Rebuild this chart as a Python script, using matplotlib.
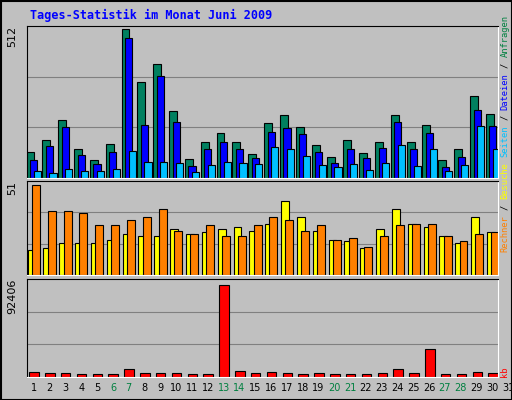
import matplotlib
matplotlib.use("Agg")
import matplotlib.pyplot as plt
import numpy as np

days = list(range(1, 32))
weekend = [6, 7, 13, 14, 20, 21, 27, 28]
anfragen = [91,132,199,101,63,118,512,331,390,230,66,125,153,122,84,188,216,174,115,73,129,87,125,216,125,181,63,98,282,219]
dateien = [63,111,174,80,49,91,481,181,352,192,42,101,125,98,70,157,171,150,91,52,101,70,104,192,101,153,38,73,233,178]
seiten = [24,17,31,24,24,31,94,56,56,52,21,45,56,52,49,108,101,77,45,38,49,28,52,115,42,101,24,45,178,98]
rechner = [14,15,18,18,18,20,23,22,22,26,23,24,26,27,25,29,42,33,25,20,19,15,26,37,29,27,22,18,33,24]
besuche = [51,36,36,35,28,28,31,33,37,25,23,28,22,22,28,33,31,25,28,20,21,16,22,28,29,29,22,19,23,24]
kb = [5000,4000,4000,3000,3000,3000,8000,4000,4000,4000,3000,3000,92406,6000,4000,5000,4000,3000,4000,3000,3000,3000,4000,8000,4000,28000,3000,3000,5000,4000]

BG = "#C0C0C0"
fig = plt.figure(figsize=(5.12, 4.0), dpi=100, facecolor=BG)
W, H = 512, 400
def ax_px(x0, y0, x1, y1):
    return fig.add_axes([x0/W, 1-y1/H, (x1-x0)/W, (y1-y0)/H], facecolor=BG)

fig.patches.append(plt.Rectangle((0.5/W, 0.5/H), 1-1/W, 1-1/H, transform=fig.transFigure,
                                 fill=False, ec="black", lw=1.5))
fig.text(30/W, 1-15/H, "Tages-Statistik im Monat Juni 2009", color="#0000FF",
         family="DejaVu Sans Mono", weight="bold", fontsize=8.5, va="center")

x = np.arange(1, 31)
axes = []
a1 = ax_px(27, 26, 498, 178)
a1.bar(x-0.22, anfragen, width=0.5, color="#008060", ec="black", lw=0.8)
a1.bar(x-0.02, dateien, width=0.45, color="#0000FF", ec="black", lw=0.8)
a1.bar(x+0.2, seiten, width=0.45, color="#00C0FF", ec="black", lw=0.8)
a1.set_ylim(0, 512*1.02)
a1.text(-0.02, 1, "512", transform=a1.transAxes, rotation=90, ha="right", va="top", fontsize=8)
axes.append(a1)

a2 = ax_px(27, 181, 498, 275)
a2.bar(x-0.15, rechner, width=0.5, color="#FFFF00", ec="black", lw=0.8)
a2.bar(x+0.12, besuche, width=0.5, color="#FF8000", ec="black", lw=0.8)
a2.set_ylim(0, 51*1.04)
a2.text(-0.02, 1, "51", transform=a2.transAxes, rotation=90, ha="right", va="top", fontsize=8)
axes.append(a2)

a3 = ax_px(27, 279, 498, 377)
a3.bar(x, kb, width=0.6, color="#FF0000", ec="black", lw=0.8)
a3.set_ylim(0, 92406*1.06)
a3.text(-0.02, 1, "92406", transform=a3.transAxes, rotation=90, ha="right", va="top", fontsize=8)
axes.append(a3)

for a in axes:
    a.set_xticks([]); a.set_yticks([])
    lo, hi = a.get_ylim()
    for f in (1/3, 2/3):
        a.axhline(hi*f, color="#808080", lw=0.8, zorder=0)
    a.spines["left"].set_color("black"); a.spines["top"].set_color("black")
    a.spines["right"].set_color("white"); a.spines["bottom"].set_color("white")
    a.set_xlim(0.56, 30.3)

for d in days:
    xp = 34 + (d-1)*15.8
    fig.text(xp/W, 1-388/H, str(d), ha="center", va="center", fontsize=7,
             color="#008040" if d in weekend else "black")

pieces = [("Rechner", "#FF8000"), ("/", "black"), ("Besuche", "#FFFF00"),
          ("Seiten", "#00C0FF"), ("/", "black"), ("Dateien", "#0000FF"), ("/", "black"),
          ("Anfragen", "#008040")]
fs = 6.3
cw = 0.602*fs*100/72
y = 252
for t, c in pieces:
    fig.text(505/W, 1-y/H, t, rotation=90, color=c, family="DejaVu Sans Mono",
             fontsize=fs, ha="center", va="bottom")
    y -= (len(t)+1)*cw
fig.text(505/W, 1-377/H, "kb", rotation=90, color="#FF0000", family="DejaVu Sans Mono",
         fontsize=fs, ha="center", va="bottom")

fig.savefig("out.png", dpi=100, facecolor=BG)
